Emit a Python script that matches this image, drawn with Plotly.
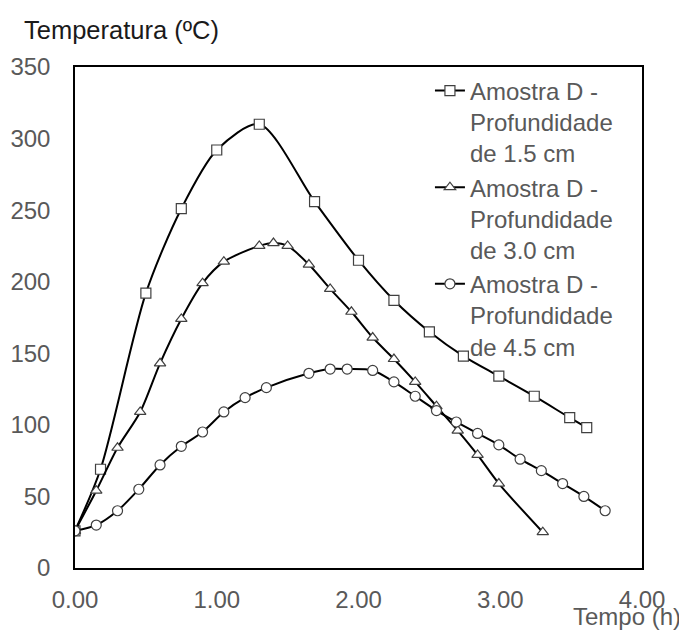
import plotly.graph_objects as go

# Data
t_d15 = [0.00, 0.18, 0.50, 0.75, 1.00, 1.30, 1.69, 2.00, 2.25, 2.50, 2.74, 2.99, 3.24, 3.49, 3.61]
T_d15 = [26, 69, 192, 251, 292, 310, 256, 215, 187, 165, 148, 134, 120, 105, 98]

t_d30 = [0.00, 0.15, 0.30, 0.46, 0.60, 0.75, 0.90, 1.05, 1.30, 1.40, 1.50, 1.65, 1.80,
         1.95, 2.10, 2.25, 2.40, 2.55, 2.70, 2.84, 2.99, 3.30]
T_d30 = [26, 54, 84, 109, 143, 174, 199, 214, 225, 227, 225, 212, 195,
         179, 161, 146, 130, 113, 96, 79, 59, 25]

t_d45 = [0.00, 0.15, 0.30, 0.45, 0.60, 0.75, 0.90, 1.05, 1.20, 1.35, 1.65, 1.80, 1.92,
         2.10, 2.25, 2.40, 2.55, 2.69, 2.84, 2.99, 3.14, 3.29, 3.44, 3.59, 3.74]
T_d45 = [26, 30, 40, 55, 72, 85, 95, 109, 119, 126, 136, 139, 139,
         138, 130, 120, 110, 102, 94, 86, 76, 68, 59, 50, 40]

names = ["Amostra D -<br>Profundidade<br>de 1.5 cm",
         "Amostra D -<br>Profundidade<br>de 3.0 cm",
         "Amostra D -<br>Profundidade<br>de 4.5 cm"]
symbols = ["square", "triangle-up", "circle"]

x_ticks = [0, 1, 2, 3, 4]
y_ticks = [0, 50, 100, 150, 200, 250, 300, 350]

FONT = "Liberation Sans, Arial, sans-serif"
GRAY = "#595959"

fig = go.Figure()
for xs, ys, nm, sym in zip([t_d15, t_d30, t_d45], [T_d15, T_d30, T_d45], names, symbols):
    fig.add_trace(go.Scatter(
        x=xs, y=ys, name=nm, mode="lines+markers",
        line=dict(color="black", width=2, shape="spline", smoothing=0.8),
        marker=dict(symbol=sym, size=10, color="white",
                    line=dict(color="#404040", width=1.2)),
    ))

# the page body has an 8px margin, so the figure is 8px smaller and shifted
fig.update_layout(
    width=679, height=623,
    margin=dict(l=67, r=45, t=59, b=63, autoexpand=False),
    paper_bgcolor="white", plot_bgcolor="white",
    font=dict(family=FONT, size=24, color=GRAY),
    showlegend=True,
    legend=dict(x=0.626, y=0.997, xanchor="left", yanchor="top",
                bgcolor="rgba(0,0,0,0)", valign="top",
                tracegroupgap=0, font=dict(size=24, color=GRAY)),
    xaxis=dict(range=[0, 4], tickvals=x_ticks, tickformat=".2f",
               showgrid=False, zeroline=False, showline=True, mirror=True,
               linecolor="black", linewidth=1.5, ticks="", automargin=False,
               ticklabelstandoff=9, tickfont=dict(size=24, color=GRAY)),
    yaxis=dict(range=[0, 350], tickvals=y_ticks,
               showgrid=False, zeroline=False, showline=True, mirror=True,
               linecolor="black", linewidth=1.5, ticks="", automargin=False,
               ticklabelstandoff=18, tickfont=dict(size=24, color=GRAY)),
    annotations=[
        dict(text="Temperatura (ºC)", xref="paper", yref="paper",
             x=-0.094, y=1.074, xanchor="left", yanchor="middle",
             showarrow=False, font=dict(size=25.5, color="#1a1a1a", family=FONT)),
        dict(text="Tempo (h)", xref="paper", yref="paper",
             x=1.072, y=-0.097, xanchor="right", yanchor="middle",
             showarrow=False, font=dict(size=24, color=GRAY, family=FONT)),
    ],
)

fig.write_html("out.html")
